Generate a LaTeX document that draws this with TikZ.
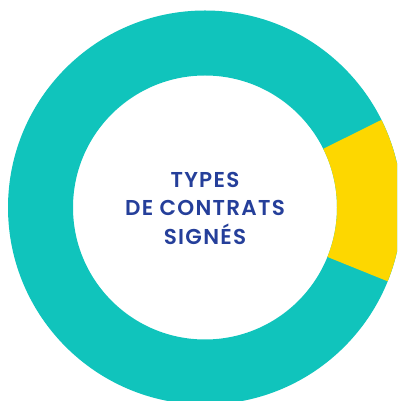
\documentclass[tikz,border=0pt]{standalone}
\usepackage{fontspec}
\setmainfont{Poppins}[BoldFont={Poppins SemiBold}, BoldFeatures={LetterSpace=6}]
\definecolor{ringteal}{HTML}{10C4BC}
\definecolor{ringyellow}{HTML}{FDD700}
\definecolor{titleblue}{HTML}{253F9A}
\tikzset{
  ringpart/.style={draw=none},
  title/.style={align=center, text=titleblue, font=\fontsize{21.5}{28.5}\selectfont\bfseries, inner sep=0pt}
}
\begin{document}
\begin{tikzpicture}[x=1pt,y=1pt]
\useasboundingbox (0,0) rectangle (397,401);
\clip (0,0) rectangle (397,401);
\coordinate (c) at (205,193.5);
\fill[ringteal, even odd rule, ringpart] (c) circle (197) (c) circle (132);
\fill[ringyellow, ringpart] ([shift={(-22:132)}]c) arc[start angle=-22, end angle=26.4, radius=132]
  -- ([shift={(26.4:197)}]c) arc[start angle=26.4, end angle=-22, radius=197] -- cycle;
\node[title] (t) at (205,193) {TYPES\\DE CONTRATS\\SIGNÉS};
\end{tikzpicture}
\end{document}
